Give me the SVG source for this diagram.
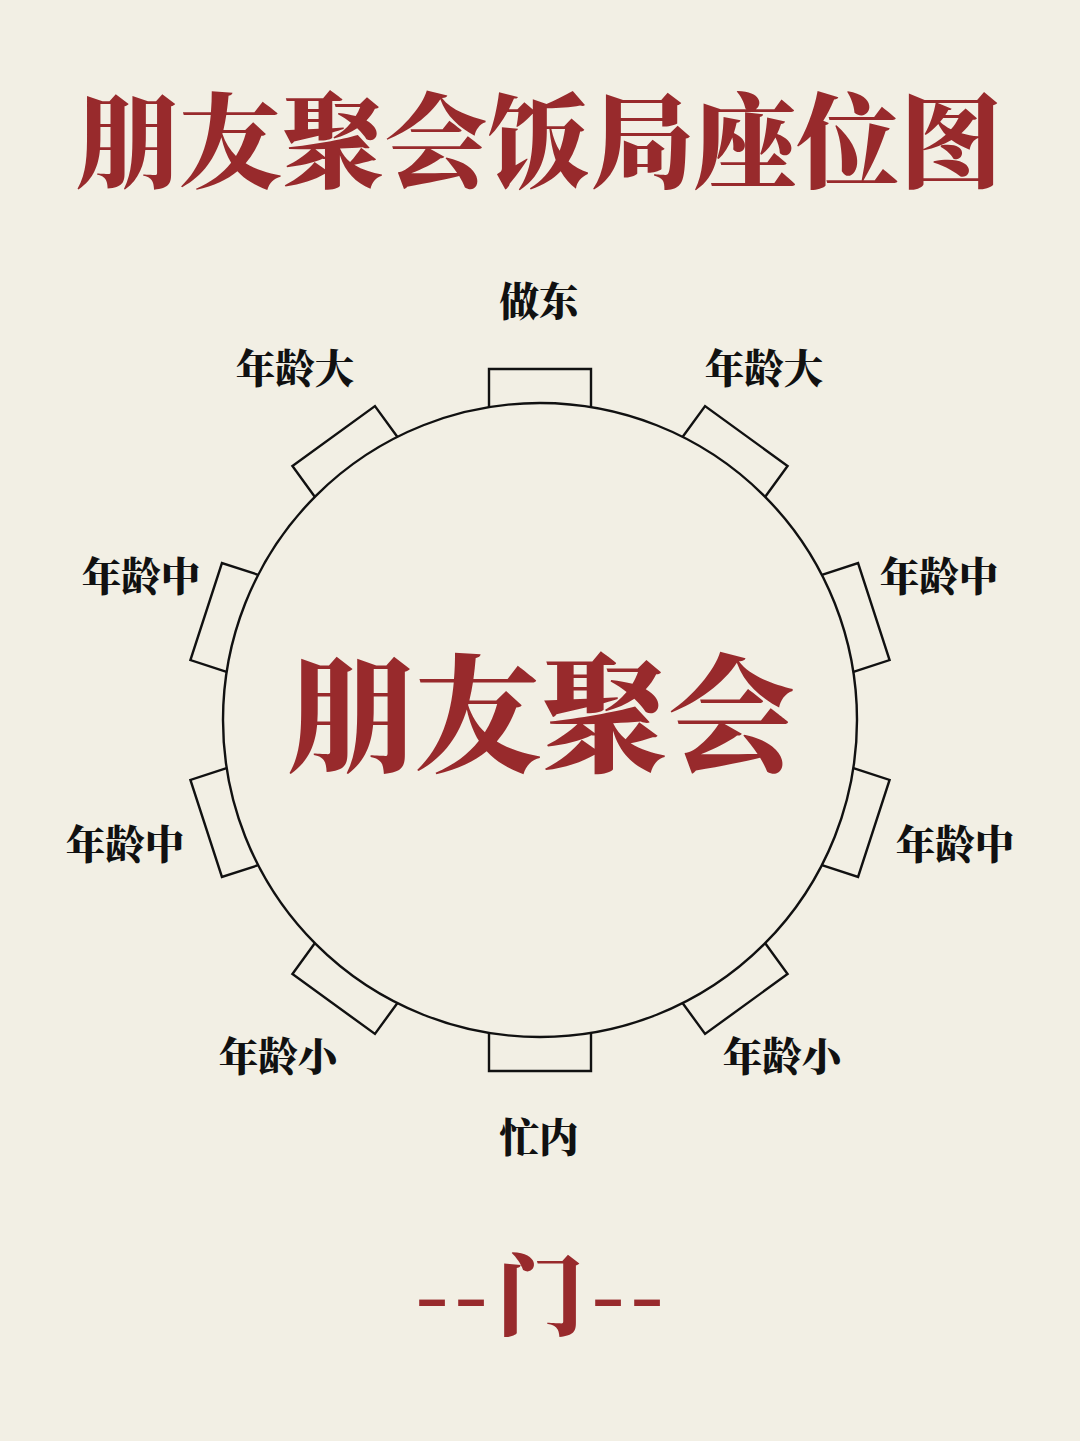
<svg xmlns="http://www.w3.org/2000/svg" xmlns:xlink="http://www.w3.org/1999/xlink" width="1080" height="1441" viewBox="0 0 1080 1441">
<style>
.title{font-family:"Noto Serif CJK SC","Noto Sans CJK SC",serif;font-weight:900;fill:#982a2c;text-anchor:middle}
.lbl{font-family:"Noto Serif CJK SC","Noto Sans CJK SC",serif;font-weight:900;font-size:39.5px;fill:#111;text-anchor:middle}
.seat{fill:none;stroke:#111;stroke-width:2.4}
.table{fill:none;stroke:#111;stroke-width:2.4}
</style>
<defs>
<path id="seat" class="seat" d="M -51 -313 V -351 H 51 V -313"/>
</defs>
<rect width="1080" height="1441" fill="#f2efe4"/>
<g id="title"><text class="title" x="539" y="180" font-size="103">朋友聚会饭局座位图</text></g>
<g id="table">
<circle class="table" cx="540" cy="720" r="317"/>
<text class="title" x="541" y="762" font-size="127">朋友聚会</text>
</g>
<g id="seat-host"><use xlink:href="#seat" transform="translate(540 720)"/><text class="lbl" x="539" y="316">做东</text></g>
<g id="seat-r1"><use xlink:href="#seat" transform="translate(540 720) rotate(36)"/><text class="lbl" x="764" y="383">年龄大</text></g>
<g id="seat-r2"><use xlink:href="#seat" transform="translate(540 720) rotate(72)"/><text class="lbl" x="939" y="591">年龄中</text></g>
<g id="seat-r3"><use xlink:href="#seat" transform="translate(540 720) rotate(108)"/><text class="lbl" x="955" y="859">年龄中</text></g>
<g id="seat-r4"><use xlink:href="#seat" transform="translate(540 720) rotate(144)"/><text class="lbl" x="782" y="1071">年龄小</text></g>
<g id="seat-bottom"><use xlink:href="#seat" transform="translate(540 720) rotate(180)"/><text class="lbl" x="539" y="1152">忙内</text></g>
<g id="seat-l4"><use xlink:href="#seat" transform="translate(540 720) rotate(216)"/><text class="lbl" x="278" y="1071">年龄小</text></g>
<g id="seat-l3"><use xlink:href="#seat" transform="translate(540 720) rotate(252)"/><text class="lbl" x="125" y="859">年龄中</text></g>
<g id="seat-l2"><use xlink:href="#seat" transform="translate(540 720) rotate(288)"/><text class="lbl" x="141" y="591">年龄中</text></g>
<g id="seat-l1"><use xlink:href="#seat" transform="translate(540 720) rotate(324)"/><text class="lbl" x="295" y="383">年龄大</text></g>
<g id="door"><text class="title" font-size="88" y="1328"><tspan x="432">-</tspan><tspan x="471">-</tspan><tspan x="540">门</tspan><tspan x="608">-</tspan><tspan x="647">-</tspan></text></g>
</svg>
